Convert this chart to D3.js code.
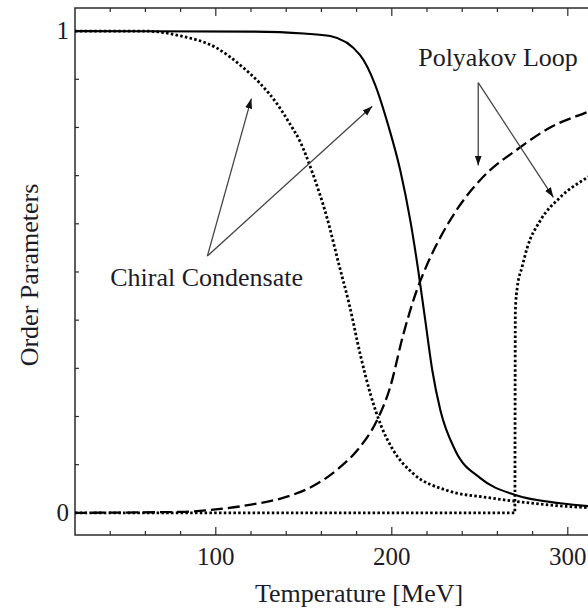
<!DOCTYPE html>
<html>
<head>
<meta charset="utf-8">
<script src="https://cdnjs.cloudflare.com/ajax/libs/d3/7.8.5/d3.min.js"></script>
<style>
  body { margin: 0; background: #fff; }
  text { font-family: "Liberation Serif", "Times New Roman", serif; fill: #1c1c28; }
</style>
</head>
<body>
<div id="chart"></div>
<script>
// Temperature [MeV] / order parameter pairs
var chiralSolidT   = [20, 120, 150, 165, 182, 190.6, 198, 204.8, 210.5, 215, 219, 223, 227.6, 236, 250.3, 270.2, 295.7, 311.6, 320];
var chiralSolidV   = [1.0, 0.999, 0.995, 0.99, 0.95, 0.888, 0.804, 0.711, 0.607, 0.504, 0.4, 0.296, 0.213, 0.13, 0.072, 0.037, 0.02, 0.014, 0.012];

var chiralDotT     = [20, 60, 80, 100, 115, 125, 135, 142, 148, 155, 163, 170, 176, 182, 188, 194, 200, 212, 231, 256, 270, 311, 320];
var chiralDotV     = [1.0, 1.0, 0.99, 0.966, 0.926, 0.892, 0.848, 0.808, 0.77, 0.705, 0.615, 0.515, 0.43, 0.33, 0.245, 0.18, 0.135, 0.082, 0.047, 0.031, 0.024, 0.011, 0.01];

var polyDashT      = [20, 80, 100, 120, 140, 155, 170, 182, 192, 199, 206.5, 214, 220, 227.6, 238, 250, 273, 290, 311, 320];
var polyDashV      = [0, 0.002, 0.007, 0.017, 0.033, 0.055, 0.093, 0.137, 0.195, 0.26, 0.37, 0.46, 0.515, 0.572, 0.635, 0.69, 0.759, 0.8, 0.832, 0.845];

var polyDotT       = [20, 269.9, 270.2, 271.3, 274, 277, 284.4, 295.7, 311, 320];
var polyDotV       = [0, 0, 0.42, 0.468, 0.51, 0.551, 0.607, 0.655, 0.696, 0.715];

var xTickLabels = [100, 200, 300];
var yTickLabels = [0, 1];

// annotation anchors in data units [T, value]
var chiralLabel = { text: "Chiral Condensate", at: [40, 0.47], from: [95.2, 0.533], to: [[120.2, 0.86], [188.9, 0.844]] };
var polyLabel   = { text: "Polyakov Loop", at: [215, 0.927], from: [249.1, 0.893], to: [[249.1, 0.721], [291.8, 0.655]] };

// SVG area
var svgWidth = 588;
var svgHeight = 611;

var svg = d3
  .select("#chart")
  .append("svg")
  .attr("width", svgWidth)
  .attr("height", svgHeight);

// scales (plot extends past the right edge of the window)
var xScale = d3.scaleLinear().domain([20, 320]).range([75, 603]);
var yScale = d3.scaleLinear().domain([-0.046, 1.048]).range([535, 8]);

var plotLeft = xScale.range()[0], plotRight = xScale.range()[1];
var plotTop = yScale.range()[1], plotBottom = yScale.range()[0];

var defs = svg.append("defs");

defs.append("clipPath")
  .attr("id", "plotClip")
  .append("rect")
  .attr("x", plotLeft)
  .attr("y", plotTop)
  .attr("width", plotRight - plotLeft)
  .attr("height", plotBottom - plotTop);

// frame
svg.append("rect")
  .attr("x", plotLeft)
  .attr("y", plotTop)
  .attr("width", plotRight - plotLeft)
  .attr("height", plotBottom - plotTop)
  .attr("fill", "none")
  .attr("stroke", "#2a2a2a")
  .attr("stroke-width", 1.5);

// ticks pointing inward, on bottom/top and left
var xTicks = d3.range(40, 320, 20);
var yTicks = d3.range(0, 1.05, 0.1);

var tickGroup = svg.append("g").attr("stroke", "#2a2a2a").attr("stroke-width", 1.2);

xTicks.forEach(function(t) {
  var len = (t % 100 === 0) ? 8 : 4;
  tickGroup.append("line")
    .attr("x1", xScale(t)).attr("x2", xScale(t))
    .attr("y1", plotBottom).attr("y2", plotBottom - len);
  tickGroup.append("line")
    .attr("x1", xScale(t)).attr("x2", xScale(t))
    .attr("y1", plotTop).attr("y2", plotTop + len);
});

yTicks.forEach(function(v, i) {
  var len = (i === 0 || i === 10) ? 8 : 4;
  tickGroup.append("line")
    .attr("x1", plotLeft).attr("x2", plotLeft + len)
    .attr("y1", yScale(v)).attr("y2", yScale(v));
});

// tick labels
svg.append("g")
  .selectAll("text")
  .data(xTickLabels)
  .enter()
  .append("text")
  .attr("x", d => xScale(d))
  .attr("y", 565)
  .attr("text-anchor", "middle")
  .attr("font-size", 25)
  .text(d => d);

svg.append("g")
  .selectAll("text")
  .data(yTickLabels)
  .enter()
  .append("text")
  .attr("x", plotLeft - 6)
  .attr("y", d => yScale(d) + 8)
  .attr("text-anchor", "end")
  .attr("font-size", 25)
  .text(d => d);

// axis titles
svg.append("text")
  .attr("x", 359)
  .attr("y", 602)
  .attr("text-anchor", "middle")
  .attr("font-size", 26)
  .text("Temperature [MeV]");

svg.append("text")
  .attr("transform", "translate(38, 275) rotate(-90)")
  .attr("text-anchor", "middle")
  .attr("font-size", 26)
  .text("Order Parameters");

// curves
function pairs(ts, vs) {
  return ts.map((t, i) => [t, vs[i]]);
}

var line = d3.line()
  .x(d => xScale(d[0]))
  .y(d => yScale(d[1]))
  .curve(d3.curveMonotoneX);

var curves = [
  { pts: pairs(polyDotT, polyDotV), dash: "2.5,2.3", width: 2.8 },
  { pts: pairs(chiralDotT, chiralDotV), dash: "2.5,2.3", width: 2.8 },
  { pts: pairs(polyDashT, polyDashV), dash: "12,5", width: 2.3 },
  { pts: pairs(chiralSolidT, chiralSolidV), dash: null, width: 2.1 }
];

var curveGroup = svg.append("g").attr("clip-path", "url(#plotClip)");

curves.forEach(function(c) {
  curveGroup.append("path")
    .datum(c.pts)
    .attr("d", line)
    .attr("fill", "none")
    .attr("stroke", "#000")
    .attr("stroke-width", c.width)
    .attr("stroke-dasharray", c.dash);
});

// annotations with arrows
defs.append("marker")
  .attr("id", "arrowHead")
  .attr("viewBox", "0 0 10 10")
  .attr("refX", 10)
  .attr("refY", 5)
  .attr("markerWidth", 10)
  .attr("markerHeight", 10)
  .attr("markerUnits", "userSpaceOnUse")
  .attr("orient", "auto")
  .append("path")
  .attr("d", "M0,1.5 L10,5 L0,8.5 Z")
  .attr("fill", "#111");

[chiralLabel, polyLabel].forEach(function(a) {
  svg.append("text")
    .attr("x", xScale(a.at[0]))
    .attr("y", yScale(a.at[1]))
    .attr("font-size", 26)
    .text(a.text);

  a.to.forEach(function(tip) {
    svg.append("line")
      .attr("x1", xScale(a.from[0]))
      .attr("y1", yScale(a.from[1]))
      .attr("x2", xScale(tip[0]))
      .attr("y2", yScale(tip[1]))
      .attr("stroke", "#444")
      .attr("stroke-width", 1.3)
      .attr("marker-end", "url(#arrowHead)");
  });
});
</script>
</body>
</html>
